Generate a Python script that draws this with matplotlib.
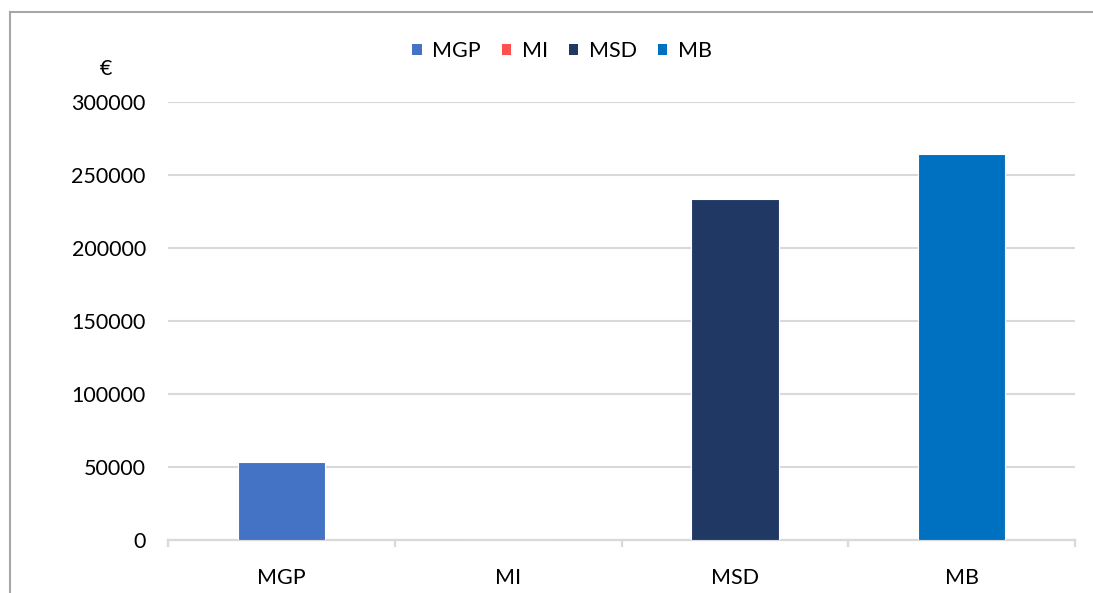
import matplotlib
matplotlib.use("Agg")
import matplotlib.pyplot as plt
from matplotlib.patches import Patch
from matplotlib.lines import Line2D

plt.rcParams['font.family'] = ['Lato', 'DejaVu Sans']

categories = ["MGP", "MI", "MSD", "MB"]
values = [53400, 0, 233400, 264400]
colors = ["#4472C4", "#FF4F4F", "#203864", "#0070C0"]
yticks = [0, 50000, 100000, 150000, 200000, 250000, 300000]
unit_label = "€"

FS = 15.5
W, H = 1093, 593
fig = plt.figure(figsize=(W / 100, H / 100), dpi=100)
ax = fig.add_axes([168 / W, (H - 540) / H, (1075 - 168) / W, (540 - 102) / H])

x = list(range(len(categories)))
ax.bar(x, values, width=0.385, color=colors, edgecolor="white", linewidth=0.8, zorder=3)

ax.set_xlim(-0.5, len(categories) - 0.5)
ax.set_ylim(0, 300000)
ax.set_yticks(yticks)
ax.set_yticklabels([str(v) for v in yticks], fontsize=FS, color="#000000")
ax.set_xticks(x)
ax.set_xticklabels(categories, fontsize=FS, color="#000000")
ax.tick_params(axis="y", length=0, pad=16)
ax.tick_params(axis="x", length=0, pad=20)

# category boundary tick marks below the axis
for b in [i - 0.5 for i in range(len(categories) + 1)]:
    ax.plot([b, b], [0, -0.014 * 300000], color="#D9D9D9", lw=1.6,
            clip_on=False, zorder=2)

ax.grid(axis="y", color="#D9D9D9", lw=1.5, zorder=0)
for s in ["left", "right", "top"]:
    ax.spines[s].set_visible(False)
ax.spines["bottom"].set_color("#D9D9D9")
ax.spines["bottom"].set_linewidth(1.6)

handles = [Patch(facecolor=c, edgecolor="none", label=l) for c, l in zip(colors, categories)]
fig.legend(handles=handles, loc="center", bbox_to_anchor=(562 / W, 1 - 51 / H),
           ncol=4, frameon=False, fontsize=FS, handlelength=0.45, handleheight=0.45,
           handletextpad=0.5, columnspacing=0.95)

fig.text(106 / W, 1 - 69 / H, unit_label, fontsize=FS, ha="center", va="center")

# outer frame lines
fig.add_artist(Line2D([10 / W, 1.0], [1 - 11.5 / H, 1 - 11.5 / H], color="#A6A6A6", lw=1.5))
fig.add_artist(Line2D([10 / W, 10 / W], [0, 1 - 11.5 / H], color="#A6A6A6", lw=1.5))

fig.savefig("out.png", dpi=100, facecolor="white")
